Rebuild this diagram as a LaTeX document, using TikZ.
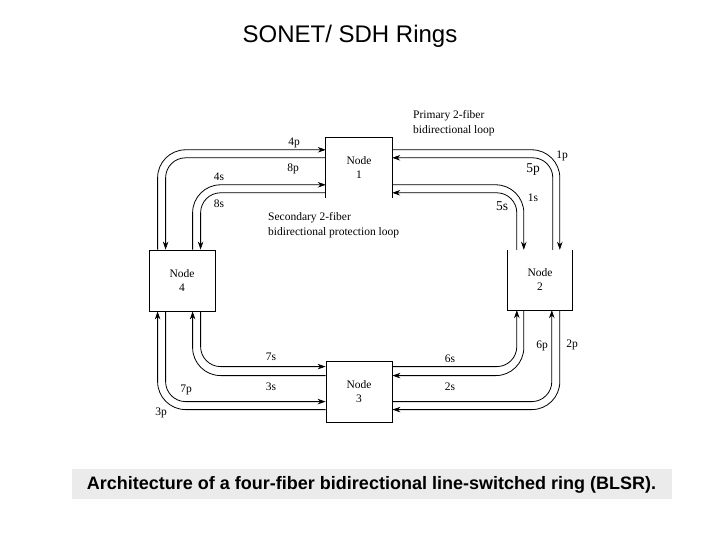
\documentclass[tikz,border=0pt]{standalone}
\usepackage{fontspec}
\setmainfont{Liberation Serif}
\newfontfamily\arialfont{Liberation Sans}
\usetikzlibrary{arrows.meta}
\begin{document}
\begin{tikzpicture}[x=1pt,y=-1pt,
  box/.style={minimum width=66pt,minimum height=61pt,inner sep=0pt,align=center,font=\fontsize{11.5}{14}\selectfont},
  fib/.style={line width=0.8pt,-{Stealth[length=8pt,width=5.5pt]}},
  outer/.style={fib,rounded corners=28pt},
  inner/.style={fib,rounded corners=20pt},
  lbl/.style={inner sep=0pt,font=\fontsize{11.5}{13}\selectfont},
  biglbl/.style={inner sep=0pt,font=\fontsize{13.5}{15}\selectfont},
  note/.style={inner sep=0pt,anchor=west,align=left,font=\fontsize{11.5}{15}\selectfont}]
\useasboundingbox (0,0) rectangle (720,540);
% title
\node[font=\arialfont\fontsize{24}{27}\selectfont,anchor=base,inner sep=0pt] (title) at (350,43) {SONET/ SDH Rings};
% nodes
\node[box,minimum height=60pt] (n1) at (359,168) {Node\\1};
\node[box,minimum width=64pt,minimum height=60pt] (n2) at (540,280) {Node\\2};
\node[box,draw,line width=0.8pt] (n3) at (359,391.5) {Node\\3};
\node[box,draw,line width=0.8pt] (n4) at (182,280.5) {Node\\4};
% open boxes
\draw[line width=0.8pt] (n1.south west) -- (n1.north west) -- (n1.north east) -- (n1.south east);
\draw[line width=0.8pt] (n2.north west) -- (n2.south west) -- (n2.south east) -- (n2.north east);
% top-left
\draw[outer] ([xshift=9pt]n4.north west) |- ([yshift=-12pt]n1.north west);
\draw[inner] ([yshift=-20pt]n1.north west) -| ([xshift=17pt]n4.north west);
\draw[outer] ([xshift=44pt]n4.north west) |- ([yshift=-47pt]n1.north west);
\draw[inner] ([yshift=-55pt]n1.north west) -| ([xshift=52pt]n4.north west);
% top-right
\draw[outer] ([yshift=-12pt]n1.north east) -| ([xshift=52pt]n2.north west);
\draw[inner] ([xshift=45pt]n2.north west) |- ([yshift=-20pt]n1.north east);
\draw[outer] ([yshift=-47pt]n1.north east) -| ([xshift=16pt]n2.north west);
\draw[inner] ([xshift=9pt]n2.north west) |- ([yshift=-55pt]n1.north east);
% bottom-right
\draw[inner] ([yshift=-6pt]n3.north east) -| ([xshift=9pt]n2.south west);
\draw[outer] ([xshift=16pt]n2.south west) |- ([yshift=-15pt]n3.north east);
\draw[inner] ([yshift=-41pt]n3.north east) -| ([xshift=44pt]n2.south west);
\draw[outer] ([xshift=52pt]n2.south west) |- ([yshift=-49pt]n3.north east);
% bottom-left
\draw[inner] ([xshift=52pt]n4.south west) |- ([yshift=-6pt]n3.north west);
\draw[outer] ([yshift=-15pt]n3.north west) -| ([xshift=44pt]n4.south west);
\draw[inner] ([xshift=17pt]n4.south west) |- ([yshift=-41pt]n3.north west);
\draw[outer] ([yshift=-49pt]n3.north west) -| ([xshift=9pt]n4.south west);
% labels
\node[lbl] (l4p) at (294,143) {4p};
\node[lbl] (l8p) at (293,169) {8p};
\node[lbl] (l4s) at (219,177) {4s};
\node[lbl] (l8s) at (219,204) {8s};
\node[lbl] (l1p) at (562,156) {1p};
\node[biglbl] (l5p) at (533,170) {5p};
\node[lbl] (l1s) at (533,198) {1s};
\node[biglbl] (l5s) at (502,206) {5s};
\node[lbl] (l6p) at (542,346) {6p};
\node[lbl] (l2p) at (572,345) {2p};
\node[lbl] (l6s) at (450,359) {6s};
\node[lbl] (l2s) at (450,387) {2s};
\node[lbl] (l7s) at (271,357) {7s};
\node[lbl] (l3s) at (271,387) {3s};
\node[lbl] (l7p) at (186,390) {7p};
\node[lbl] (l3p) at (161,413) {3p};
\node[note] (prim) at (413,123.5) {Primary 2-fiber\\bidirectional loop};
\node[note] (sec) at (268,225) {Secondary 2-fiber\\bidirectional protection loop};
% caption
\fill[black!8] (72,469) rectangle (672,499);
\node[font=\arialfont\bfseries\fontsize{18}{20}\selectfont,anchor=base,inner sep=0pt] (cap) at (371.5,489) {Architecture of a four-fiber bidirectional line-switched ring (BLSR).};
\end{tikzpicture}
\end{document}
